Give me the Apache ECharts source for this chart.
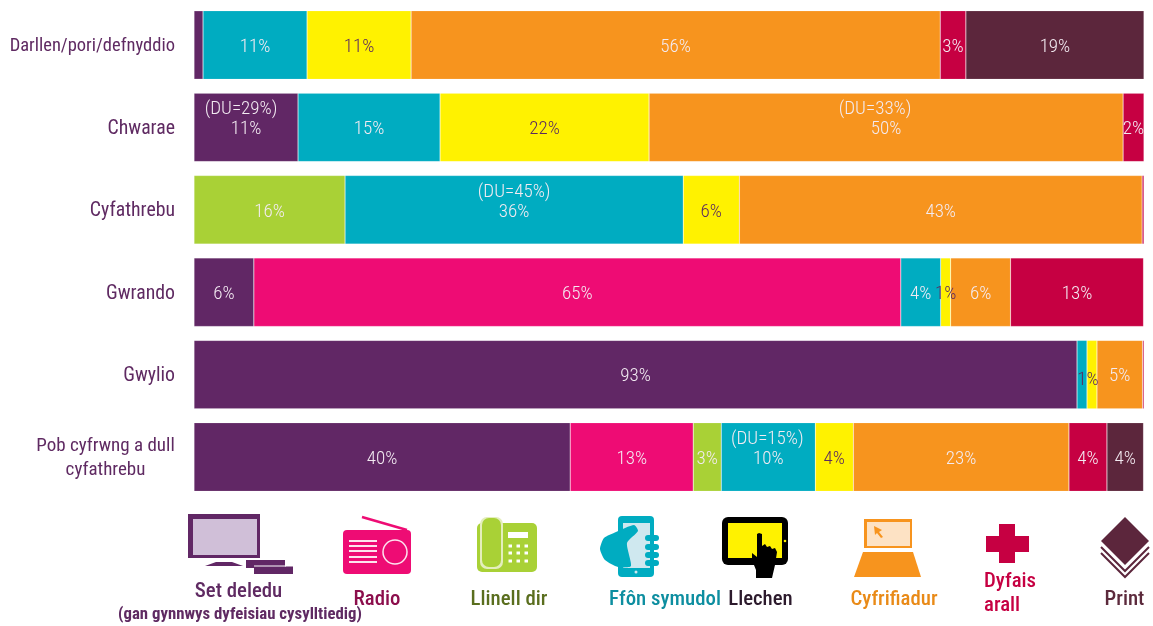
<!DOCTYPE html>
<html>
<head>
<meta charset="utf-8">
<style>html,body{margin:0;padding:0;background:#fff}#c{width:1153px;height:626px}</style>
<script src="https://cdn.jsdelivr.net/npm/echarts@6/dist/echarts.min.js"></script>
</head>
<body>
<div id="c"></div>
<script>
const categories = ['Darllen/pori/defnyddio','Chwarae','Cyfathrebu','Gwrando','Gwylio','Pob cyfrwng a dull\ncyfathrebu'];
const seriesNames = ['Set deledu','Radio','Llinell dir','Ffôn symudol','Llechen','Cyfrifiadur','Dyfais arall','Print'];
const tvValues       = [0.95, 10.95, null, 6.3, 92.95, 39.6];
const radioValues    = [null, null, null, 68.1, null, 12.95];
const landlineValues = [null, null, 15.9, null, null, 2.95];
const mobileValues   = [10.95, 14.95, 35.6, 4.2, 1.05, 9.9];
const tabletValues   = [10.95, 22, 5.9, 1.05, 1.05, 4];
const computerValues = [55.7, 49.9, 42.4, 6.3, 4.8, 22.7];
const otherValues    = [2.7, 2.2, 0.2, 14, 0.15, 4];
const printValues    = [18.75, null, null, null, null, 3.85];
const tvLabels       = ['', '(DU=29%)\n11%', '', '6%', '93%', '40%'];
const radioLabels    = ['', '', '', '65%', '', '13%'];
const landlineLabels = ['', '', '16%', '', '', '3%'];
const mobileLabels   = ['11%', '15%', '(DU=45%)\n36%', '4%', '', '(DU=15%)\n10%'];
const tabletLabels   = ['11%', '22%', '6%', '1%', '1%', '4%'];
const computerLabels = ['56%', '(DU=33%)\n50%', '43%', '6%', '5%', '23%'];
const otherLabels    = ['3%', '2%', '', '13%', '', '4%'];
const printLabels    = ['19%', '', '', '', '', '4%'];

const FONT = '"Roboto Condensed","Liberation Sans",sans-serif';
const barColors = ['#612765','#ee0c74','#a9d136','#00acc1','#fff200','#f7941e','#c60042','#5c263c'];
const LIGHT = '#f3ebf2', DARK = '#5b2a5f';
const valueSets = [tvValues,radioValues,landlineValues,mobileValues,tabletValues,computerValues,otherValues,printValues];
const labelSets = [tvLabels,radioLabels,landlineLabels,mobileLabels,tabletLabels,computerLabels,otherLabels,printLabels];
const tweaks = {'0:1':{du:5}, '5:1':{du:11}, '3:5':{du:1}, '4:4':{off:[-4,6]}};
const LSZ = 19;

function makeItem(v, txt, s, r){
  const t = tweaks[s+':'+r] || {};
  const color = s===4 ? DARK : LIGHT;
  const base = {fontFamily:FONT,fontSize:LSZ,fontWeight:300,color:color,lineHeight:20};
  const two = txt.indexOf('\n')>=0;
  const lab = {show:!!txt, position:'inside', align:'center', verticalAlign:'middle', overflow:'none',
    fontFamily:FONT,fontSize:LSZ,fontWeight:300,color:color,offset:t.off||[0,2]};
  if(two){
    const p = txt.split('\n');
    lab.formatter = '{d|'+p[0]+'}\n{v|'+p[1]+'}';
    lab.offset = [0,-8];
    lab.rich = {d:Object.assign({},base,{padding:[0,2*(t.du||0),0,0]}), v:base};
  } else { lab.formatter = txt; }
  return {value:v,label:lab};
}

const series = seriesNames.map((n,s)=>({
  name:n,type:'bar',stack:'all',barWidth:68.5,silent:true,
  itemStyle:{color:barColors[s],borderColor:'rgba(255,255,255,0.22)',borderWidth:0.6},
  data:valueSets[s].map((v,r)=>makeItem(v,labelSets[s][r],s,r))
}));

const P='#612765';
const g=[];
const rect=(x,y,w,h,c,r)=>g.push({type:'rect',shape:{x,y,width:w,height:h,r:r||0},style:{fill:c},silent:true});
const poly=(pts,c,smooth)=>g.push({type:'polygon',shape:{points:pts,smooth:smooth||0},style:{fill:c},silent:true});
const circ=(cx,cy,r,f,st,lw)=>g.push({type:'circle',shape:{cx,cy,r},style:{fill:f,stroke:st||null,lineWidth:lw||0},silent:true});
const line=(pts,c,lw)=>g.push({type:'polyline',shape:{points:pts},style:{fill:null,stroke:c,lineWidth:lw},silent:true});
const text=(t,x,y,c,sz,al,w)=>g.push({type:'text',x,y,silent:true,style:{text:t,fill:c,font:(w||500)+' '+sz+'px '+FONT,textAlign:al||'center',textVerticalAlign:'middle'}});

// TV
rect(188,514,72,44,P); rect(193,519,64,36,'#d0bfd8');
poly([[205,566],[216,562],[232,562],[243,566]],P);
rect(246,560,39,8,P); rect(254,566.5,39,7.5,P); line([[254,566],[286,566]],'#fff',1);
// Radio
line([[362,517],[407,530]],barColors[1],2.5);
rect(343,530,68,44,barColors[1],4);
[540,545,550,556,561].forEach(y=>rect(349,y,28,2,'#fde3ee'));
circ(395,552,12,barColors[1],'#fde3ee',1.5);
// Landline
rect(477,523,60,49,barColors[2],5);
rect(480,517,23,52,'#e4eebd',7); rect(482,518,19,49,barColors[2],7);
rect(508,532,20,6,'#fff');
[546,553,561].forEach(y=>[510,518,526].forEach(x=>rect(x-1.5,y-1.5,3.5,3,'#fff')));
// Mobile
rect(618,516,36,61,barColors[3],4); rect(623,523,27,45,'#cfe8ef');
circ(636,572,1.5,'#cfe8ef');
poly([[634,525],[638,531],[627,543],[631,566],[618,567],[605,560],[600,549],[604,538],[616,532]],barColors[3],0.2);
[538,547,555,563].forEach(y=>rect(645,y-3,14,6,barColors[3],3));
// Tablet
rect(722,517,66,48,'#000',6); rect(728,523,54,35,barColors[4]);
circ(785,541,1.3,barColors[4]);
poly([[757,534],[759,533],[762,534],[762,546],[765,544],[767,547],[770,546],[772,549],[775,548],[777,552],[775,565],[772,578],[756,578],[756,570],[752,560],[752,553],[757,557]],'#000');
// Computer
rect(864,519,48,29,barColors[5]); rect(867,522,43,24,'#fde2c4');
poly([[874,526],[882,530],[879,532],[883,537],[881,538],[877,533],[875,535]],barColors[5]);
poly([[863,552],[913,552],[921,577],[854,577]],barColors[5]);
// Other device
rect(986,536,43,16,barColors[6]); rect(999,524,16,39,barColors[6]);
// Print
line([[1101,547],[1125,571],[1149,547]],barColors[7],2);
line([[1101,553],[1125,577],[1149,553]],barColors[7],2);
poly([[1125,517],[1149,541],[1125,565],[1101,541]],barColors[7]);
// Legend text
const LG = 20.8;
text('Set deledu',238.5,592,'#5f2a62',LG);
text('(gan gynnwys dyfeisiau cysylltiedig)',240,615,'#5f2a62',16.8,'center',700);
text('Radio',377,600,'#8c0e4c',LG);
text('Llinell dir',509,600,'#5a6e1e',LG);
text('Ffôn symudol',665,600,'#0d8ea0',LG);
text('Llechen',760.5,600,'#2c1a2c',LG);
text('Cyfrifiadur',894,600,'#e98a17',LG);
text('Dyfais',984,582,'#c60042',LG,'left');
text('arall',984,606,'#c60042',LG,'left');
text('Print',1124.5,600,'#5c2a3c',LG);

const catRich = (fs,extra)=>Object.assign({fontFamily:FONT,fontSize:fs,color:'#5f2a62',lineHeight:24},extra||{});
const chart = echarts.init(document.getElementById('c'),null,{renderer:'canvas'});
chart.setOption({
  animation:false,
  backgroundColor:'#fff',
  grid:{left:194,right:9,top:3.8,height:494.4,containLabel:false,outerBoundsMode:'none'},
  xAxis:{type:'value',min:0,max:100,show:false},
  yAxis:{type:'category',inverse:true,data:categories,
    axisLine:{show:false},axisTick:{show:false},
    axisLabel:{margin:19,align:'right',fontFamily:FONT,fontSize:19.5,color:'#5f2a62',lineHeight:24,hideOverlap:false,padding:[3,0,0,0],
      formatter:v=>v.indexOf('\n')>=0 ? v.split('\n').map(p=>'{c|'+p+'}').join('\n')
        : (v.length>15 ? '{n|'+v+'}' : '{w|'+v+'}'),
      rich:{c:catRich(19,{width:139,align:'center'}), n:catRich(18.5), w:catRich(19.8)}}},
  series:series,
  graphic:{elements:g}
});
</script>
</body>
</html>
